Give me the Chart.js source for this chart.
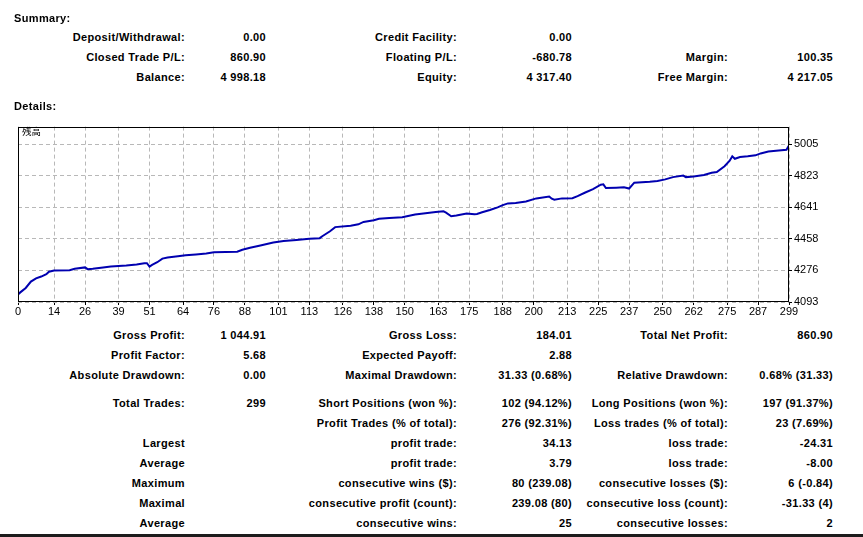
<!DOCTYPE html>
<html>
<head>
<meta charset="utf-8">
<script src="https://cdn.jsdelivr.net/npm/chart.js@4"></script>
<style>
  html, body { margin:0; padding:0; background:#fff; }
  body { width:863px; height:537px; position:relative; overflow:hidden;
         font-family:"Liberation Sans", Arial, sans-serif; }
  .t { position:absolute; font-size:11px; font-weight:bold; color:#000;
       line-height:14px; white-space:nowrap; letter-spacing:0.35px; }
  .r { text-align:right; }
  #chartBox { position:absolute; left:0; top:118px; width:863px; height:210px; }
  #jp { position:absolute; left:22px; top:125px; font-family:"Noto Sans CJK JP", sans-serif;
        font-size:9.5px; color:#000; line-height:12px; }
  #bar { position:absolute; left:0; top:534px; width:863px; height:3px; background:#1c1c1c; }
</style>
</head>
<body>
<div id="chartBox"><canvas id="c"></canvas></div>
<div id="jp">残高</div>
<div id="bar"></div>
<script>
// ---- chart data ----
const tradeIdx = [0,1,3,5,7,9,11,12,14,20,22,26,27,29,33,36,42,46,49,50,51,52,54,56,58,62,65,69,73,76,
  85,87,90,94,99,103,108,113,117,118,121,123,129,132,134,138,140,144,149,154,158,162,165,166,168,170,
  174,177,178,180,183,186,188,190,193,197,201,206,207,208,211,215,217,220,223,226,227,228,232,235,237,
  239,245,248,251,254,258,259,262,266,269,271,274,276,277,278,280,283,286,288,291,295,298,299];
const balance = [4137,4150,4174,4211,4230,4240,4254,4268,4275,4277,4285,4293,4283,4285,4293,4298,4304,4310,4317,4317,
  4298,4308,4323,4344,4350,4357,4363,4368,4374,4380,
  4384,4395,4407,4420,4437,4446,4452,4458,4462,4473,4502,4526,4534,4542,4556,4566,4574,4578,4583,4599,4606,4613,4617,4610,4589,4593,
  4604,4600,4602,4612,4625,4640,4653,4663,4665,4674,4692,4703,4690,4684,4692,4693,4705,4726,4745,4771,4773,4752,4754,4756,4749,
  4783,4788,4792,4802,4815,4824,4815,4819,4827,4840,4844,4878,4910,4935,4921,4931,4935,4941,4952,4963,4969,4973,4998.18];
const xTickLabels = [0,14,26,39,51,64,76,88,101,113,126,138,150,163,175,188,200,213,225,237,250,262,275,287,299];
const yTickLabels = [4093,4276,4458,4641,4823,5005];
const seriesName = "残高";

// ---- statement texts ----
const summaryRows = [
  [37, "Deposit/Withdrawal:", "0.00", "Credit Facility:", "0.00", "", ""],
  [57, "Closed Trade P/L:", "860.90", "Floating P/L:", "-680.78", "Margin:", "100.35"],
  [77, "Balance:", "4 998.18", "Equity:", "4 317.40", "Free Margin:", "4 217.05"]
];
const detailRows = [
  [335, "Gross Profit:", "1 044.91", "Gross Loss:", "184.01", "Total Net Profit:", "860.90"],
  [355, "Profit Factor:", "5.68", "Expected Payoff:", "2.88", "", ""],
  [375, "Absolute Drawdown:", "0.00", "Maximal Drawdown:", "31.33 (0.68%)", "Relative Drawdown:", "0.68% (31.33)"],
  [403, "Total Trades:", "299", "Short Positions (won %):", "102 (94.12%)", "Long Positions (won %):", "197 (91.37%)"],
  [423, "", "", "Profit Trades (% of total):", "276 (92.31%)", "Loss trades (% of total):", "23 (7.69%)"],
  [443, "Largest", "", "profit trade:", "34.13", "loss trade:", "-24.31"],
  [463, "Average", "", "profit trade:", "3.79", "loss trade:", "-8.00"],
  [483, "Maximum", "", "consecutive wins ($):", "80 (239.08)", "consecutive losses ($):", "6 (-0.84)"],
  [503, "Maximal", "", "consecutive profit (count):", "239.08 (80)", "consecutive loss (count):", "-31.33 (4)"],
  [523, "Average", "", "consecutive wins:", "25", "consecutive losses:", "2"]
];
const colRight = [185, 266, 457, 572, 728, 833];

function addText(txt, rightX, cy) {
  if (!txt) return;
  const d = document.createElement('div');
  d.className = 't r';
  d.textContent = txt;
  d.style.right = (863 - rightX) + 'px';
  d.style.top = (cy - 7) + 'px';
  document.body.appendChild(d);
}
function addLeft(txt, x, cy) {
  const d = document.createElement('div');
  d.className = 't';
  d.textContent = txt;
  d.style.left = x + 'px';
  d.style.top = (cy - 7) + 'px';
  document.body.appendChild(d);
}
addLeft("Summary:", 14, 18);
addLeft("Details:", 14, 106);
[...summaryRows, ...detailRows].forEach(r => {
  for (let i = 0; i < 6; i++) addText(r[i + 1], colRight[i], r[0]);
});

// ---- chart ----
const boxPlugin = {
  id: 'box',
  afterDraw(chart) {
    const { ctx, chartArea: a } = chart;
    ctx.save();
    ctx.strokeStyle = '#000';
    ctx.lineWidth = 1;
    ctx.setLineDash([]);
    ctx.strokeRect(Math.round(a.left) + 0.5, Math.round(a.top) + 0.5,
                   Math.round(a.right - a.left) - 1, Math.round(a.bottom - a.top) - 1);
    ctx.restore();
  }
};

new Chart(document.getElementById('c'), {
  type: 'line',
  data: {
    datasets: [{
      label: seriesName,
      data: tradeIdx.map((x, i) => ({ x: x, y: balance[i] })),
      borderColor: '#0000b0',
      borderWidth: 2,
      pointRadius: 0,
      tension: 0,
      fill: false
    }]
  },
  options: {
    responsive: true,
    maintainAspectRatio: false,
    animation: false,
    layout: { padding: { left: 18, top: 5, right: 0, bottom: 0 } },
    plugins: { legend: { display: false }, tooltip: { enabled: false } },
    scales: {
      x: {
        type: 'linear',
        min: 0, max: 299,
        afterBuildTicks: s => { s.ticks = xTickLabels.map(v => ({ value: v })); },
        afterFit: s => { s.height = 26; },
        grid: { color: '#b8b8b8', tickColor: '#000', tickLength: 3, tickBorderDash: [], drawTicks: true },
        border: { display: false, dash: [4, 3] },
        ticks: {
          autoSkip: false, maxRotation: 0, padding: 0, color: '#000',
          font: { family: 'Liberation Sans', size: 11 },
          callback: v => String(v)
        }
      },
      y: {
        position: 'right',
        min: 4093, max: 5107,
        afterBuildTicks: s => { s.ticks = yTickLabels.map(v => ({ value: v })); },
        afterFit: s => { s.width = 74; },
        grid: { color: '#b8b8b8', tickColor: '#000', tickLength: 3, tickBorderDash: [], drawTicks: true },
        border: { display: false, dash: [4, 3] },
        ticks: {
          padding: 2, color: '#000',
          font: { family: 'Liberation Sans', size: 11 },
          callback: v => String(v)
        }
      }
    }
  },
  plugins: [boxPlugin]
});
</script>
</body>
</html>
